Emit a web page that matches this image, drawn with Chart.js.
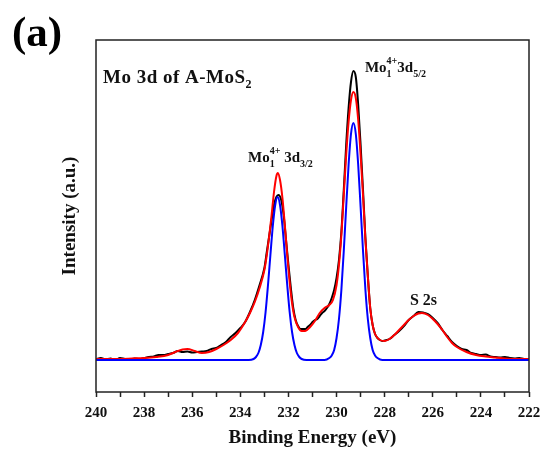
<!DOCTYPE html>
<html>
<head>
<meta charset="utf-8">
<script src="https://cdn.jsdelivr.net/npm/chart.js@4"></script>
<style>
  html, body { margin: 0; padding: 0; background: #fff; }
  #wrap { width: 542px; height: 449px; }
</style>
</head>
<body>
<div id="wrap"><canvas id="xpsChart" width="542" height="449"></canvas></div>
<script>
// Mo 3d spectrum of A-MoS2 (binding energy in eV, intensity in a.u.)

const rawE = [240, 239.8, 239.6, 239.4, 239.2, 239, 238.8, 238.6, 238.4, 238.2, 238, 237.8, 237.6, 237.4, 237.2, 237, 236.8, 236.6, 236.4, 236.2, 236, 235.8, 235.6, 235.4, 235.2, 235, 234.8, 234.6, 234.4, 234.2, 234, 233.8, 233.6, 233.4, 233.2, 233, 232.9, 232.8, 232.7, 232.6, 232.5, 232.42, 232.3, 232.2, 232.1, 232, 231.9, 231.8, 231.7, 231.6, 231.5, 231.4, 231.3, 231.2, 231.1, 231, 230.9, 230.8, 230.7, 230.6, 230.5, 230.4, 230.3, 230.2, 230.1, 230, 229.9, 229.8, 229.7, 229.6, 229.5, 229.4, 229.3, 229.2, 229.1, 229, 228.9, 228.8, 228.7, 228.6, 228.5, 228.4, 228.3, 228.2, 228.1, 228, 227.8, 227.6, 227.4, 227.2, 227, 226.8, 226.6, 226.4, 226.2, 226, 225.8, 225.6, 225.4, 225.2, 225, 224.8, 224.6, 224.4, 224.2, 224, 223.8, 223.6, 223.4, 223.2, 223, 222.8, 222.6, 222.4, 222.2, 222];
const rawI = [1, 2, 0.5, 1.5, 0, 2, 1, 0.5, 1.5, 1, 2, 3, 3.5, 5, 5, 6, 7, 9, 8, 8.5, 7.5, 8, 8.5, 9, 11, 12, 15, 18, 23, 27, 32, 38, 48, 60, 75, 92, 108, 124, 140, 155, 163, 165, 160, 145, 120, 95, 72, 52, 40, 34, 31, 31, 31, 33, 35, 38, 40, 41, 44, 47, 49, 52, 56, 62, 70, 82, 100, 128, 170, 215, 252, 278, 289, 283, 255, 215, 170, 122, 84, 52, 35, 26, 22, 20, 19, 19.5, 21, 25, 29, 34, 40, 44, 48, 47.5, 46, 42, 37, 30, 24, 18, 14, 11, 10, 7, 6, 5, 5.5, 3.5, 3, 2.5, 3, 2, 1.5, 2, 1, 1];

const fitE = [240, 239.5, 239, 238.5, 238, 237.5, 237, 236.7, 236.4, 236.2, 235.9, 235.6, 235.3, 235, 234.7, 234.4, 234.1, 233.8, 233.6, 233.4, 233.2, 233, 232.9, 232.8, 232.7, 232.6, 232.5, 232.44, 232.35, 232.25, 232.15, 232.05, 231.95, 231.85, 231.75, 231.6, 231.45, 231.3, 231.1, 230.9, 230.7, 230.5, 230.3, 230.15, 230, 229.9, 229.8, 229.7, 229.6, 229.5, 229.4, 229.3, 229.2, 229.1, 229, 228.9, 228.8, 228.7, 228.6, 228.5, 228.4, 228.2, 228, 227.8, 227.6, 227.4, 227.2, 227, 226.8, 226.6, 226.45, 226.2, 226, 225.8, 225.6, 225.4, 225.2, 225, 224.6, 224.2, 223.8, 223.4, 223, 222.5, 222];
const fitI = [1, 1, 1, 1.5, 2, 3, 5, 8, 10.5, 11, 9, 7, 8, 11, 15, 20, 27, 38, 47, 58, 72, 90, 105, 124, 145, 168, 184, 187, 180, 162, 135, 105, 78, 57, 43, 33, 29, 29, 33, 39, 47, 52, 55, 60, 75, 95, 125, 165, 205, 238, 260, 268, 262, 240, 205, 165, 120, 84, 52, 35, 26, 20, 19, 21, 25, 30, 35, 40, 44, 46.5, 47, 45, 41, 36, 30, 23, 17, 13, 8, 5, 3.5, 2.5, 1.5, 1, 1];

const peakE = [240, 233.65, 233.45, 233.35, 233.25, 233.15, 233.05, 232.95, 232.85, 232.75, 232.65, 232.55, 232.45, 232.35, 232.25, 232.15, 232.05, 231.95, 231.85, 231.75, 231.65, 231.55, 231.45, 231.25, 230.5, 230.3, 230.2, 230.1, 230, 229.9, 229.8, 229.7, 229.6, 229.5, 229.4, 229.3, 229.2, 229.1, 229, 228.9, 228.8, 228.7, 228.6, 228.5, 228.4, 228.3, 228.1, 222];
const peakI = [0, 0, 1, 3, 7, 15, 28, 48, 75, 105, 134, 155, 163, 155, 134, 105, 75, 48, 28, 15, 7, 3, 1, 0, 0, 2, 4.5, 10, 22, 41, 70, 109, 153, 195, 226, 237, 226, 195, 153, 109, 70, 41, 22, 10, 4.5, 2, 0, 0];

const xTicks = [240, 238, 236, 234, 232, 230, 228, 226, 224, 222];

// text labels placed in data coordinates
const notes = [
    { e: 239.71, i: 277, parts: [{ t: 'Mo 3d of A-MoS', s: 19 }, { t: '2', s: 12, dy: 5 }], spacing: '0.5px' },
    { e: 233.68, i: 198, parts: [{ t: 'Mo', s: 15 }, { t: '1', s: 10, dy: 5, keep: true }, { t: '4+', s: 10, dy: -8 }, { t: ' 3d', s: 15 }, { t: '3/2', s: 10, dy: 5 }] },
    { e: 228.82, i: 288, parts: [{ t: 'Mo', s: 15 }, { t: '1', s: 10, dy: 5, keep: true }, { t: '4+', s: 10, dy: -8 }, { t: '3d', s: 15 }, { t: '5/2', s: 10, dy: 5 }] },
    { e: 226.95, i: 55, parts: [{ t: 'S 2s', s: 16 }] },
];

const toPoints = (es, is) => es.map((e, k) => ({ x: e, y: is[k] }));

const serif = '"Liberation Serif", "Times New Roman", serif';

const framePlugin = {
    id: 'frame',
    afterDraw(chart) {
        const { ctx, chartArea: a, scales } = chart;
        ctx.save();
        ctx.strokeStyle = '#222';
        ctx.lineWidth = 1.5;
        ctx.strokeRect(a.left, a.top, a.right - a.left, a.bottom - a.top);

        ctx.fillStyle = '#111';
        ctx.textBaseline = 'alphabetic';
        notes.forEach(n => {
            let x = scales.x.getPixelForValue(n.e);
            const y = scales.y.getPixelForValue(n.i);
            ctx.letterSpacing = n.spacing || '0px';
            n.parts.forEach(p => {
                ctx.font = `bold ${p.s}px ${serif}`;
                ctx.fillText(p.t, x, y + (p.dy || 0));
                if (!p.keep) x += ctx.measureText(p.t).width;
            });
        });
        ctx.letterSpacing = '0px';

        ctx.font = `bold 43px ${serif}`;
        ctx.fillStyle = '#000';
        ctx.fillText('(a)', 12, 46);
        ctx.restore();
    }
};

function renderChart() {
    const ctx = document.getElementById('xpsChart').getContext('2d');
    new Chart(ctx, {
        type: 'line',
        data: {
            datasets: [
                { label: 'Mo4+ components', data: toPoints(peakE, peakI), borderColor: '#0000ff' },
                { label: 'Fit', data: toPoints(fitE, fitI), borderColor: '#ff0000' },
                { label: 'Raw', data: toPoints(rawE, rawI), borderColor: '#000000' },
            ].map(d => Object.assign(d, {
                borderWidth: 2,
                pointRadius: 0,
                fill: false,
                cubicInterpolationMode: 'monotone',
            }))
        },
        options: {
            responsive: false,
            animation: false,
            devicePixelRatio: 1,
            layout: { padding: { top: 40, right: 13, left: 0, bottom: 0 } },
            plugins: { legend: { display: false }, tooltip: { enabled: false } },
            scales: {
                x: {
                    type: 'linear',
                    reverse: true,
                    min: 222,
                    max: 240,
                    afterFit: s => { s.height = 57; },
                    afterBuildTicks: s => {
                        const t = [];
                        for (let v = 222; v <= 240; v++) t.push({ value: v });
                        s.ticks = t;
                    },
                    ticks: {
                        autoSkip: false,
                        maxRotation: 0,
                        padding: 7,
                        color: '#111',
                        font: { family: serif, size: 15, weight: 'bold' },
                        callback: v => xTicks.includes(v) ? String(v) : ''
                    },
                    grid: { drawOnChartArea: false, tickLength: 5, tickColor: '#222', tickWidth: 1.5 },
                    border: { display: false },
                    title: {
                        display: true,
                        text: 'Binding Energy (eV)',
                        color: '#111',
                        font: { family: serif, size: 19, weight: 'bold' },
                        padding: { top: 0, bottom: 0 }
                    }
                },
                y: {
                    min: -32,
                    max: 320,
                    afterFit: s => { s.width = 96; },
                    ticks: { display: false },
                    grid: { display: false },
                    border: { display: false },
                    title: {
                        display: true,
                        text: 'Intensity (a.u.)',
                        color: '#111',
                        font: { family: serif, size: 19, weight: 'bold' },
                        padding: { top: 59, bottom: 0 }
                    }
                }
            }
        },
        plugins: [framePlugin]
    });
}

document.addEventListener('DOMContentLoaded', () => {
    renderChart();
});
</script>
</body>
</html>
